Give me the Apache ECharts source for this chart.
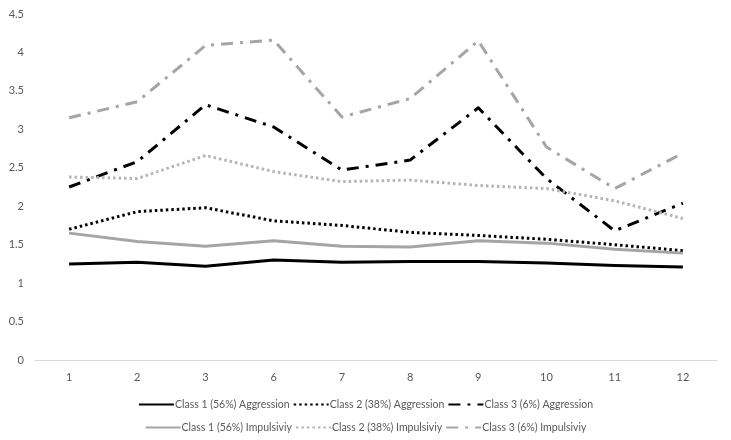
<!DOCTYPE html>
<html><head><meta charset="utf-8">
<script src="https://cdn.jsdelivr.net/npm/echarts@6/dist/echarts.min.js"></script>
<style>html,body{margin:0;padding:0;background:#fff}#c{width:731px;height:440px}</style>
</head><body><div id="c"></div>
<script>
const categories = ['1','2','3','6','7','8','9','10','11','12'];
const c1Aggression = [1.25,1.27,1.22,1.30,1.27,1.28,1.28,1.26,1.23,1.21];
const c2Aggression = [1.70,1.93,1.98,1.81,1.75,1.66,1.62,1.57,1.50,1.42];
const c3Aggression = [2.25,2.58,3.32,3.03,2.47,2.60,3.28,2.36,1.68,2.04];
const c1Impulsivity = [1.65,1.54,1.48,1.55,1.48,1.47,1.55,1.52,1.44,1.39];
const c2Impulsivity = [2.38,2.36,2.66,2.45,2.32,2.34,2.27,2.23,2.07,1.84];
const c3Impulsivity = [3.15,3.36,4.09,4.16,3.16,3.40,4.15,2.77,2.23,2.69];
const names = ['Class 1 (56%) Aggression','Class 2 (38%) Aggression','Class 3 (6%) Aggression',
               'Class 1 (56%) Impulsiviy','Class 2 (38%) Impulsiviy','Class 3 (6%) Impulsiviy'];

const FONT = 'Lato';
const TXT = '#595959';
const dotted = [2.5, 3];
const dashDot = [12, 7, 3, 7];
function s(name, data, color, type) {
  return { name, type: 'line', data, symbol: 'none', smooth: false,
    lineStyle: { color, width: 3, type, cap: 'butt', join: 'round' },
    itemStyle: { color } };
}
const legendBase = { left: 'center', itemWidth: 35, itemHeight: 10, itemGap: 3,
  itemStyle: { opacity: 0, borderWidth: 0 },
  textStyle: { color: TXT, fontFamily: FONT, fontSize: 10.5, padding: [0,0,0,-4] } };
const chart = echarts.init(document.getElementById('c'), null, { renderer: 'canvas' });
chart.setOption({
  animation: false,
  backgroundColor: '#fff',
  grid: { left: 35, right: 14, top: 14, bottom: 80, containLabel: false },
  xAxis: { type: 'category', data: categories, boundaryGap: true,
    axisLine: { lineStyle: { color: '#D9D9D9', width: 1 } },
    axisTick: { show: false },
    axisLabel: { color: TXT, fontFamily: FONT, fontSize: 11, margin: 12 } },
  yAxis: { type: 'value', min: 0, max: 4.5, interval: 0.5,
    axisLine: { show: false }, axisTick: { show: false },
    splitLine: { show: false },
    axisLabel: { color: TXT, fontFamily: FONT, fontSize: 11, margin: 11 } },
  legend: [
    Object.assign({}, legendBase, { data: names.slice(0,3), top: 394 }),
    Object.assign({}, legendBase, { data: names.slice(3), top: 417 })
  ],
  series: [
    s(names[0], c1Aggression, '#000000', 'solid'),
    s(names[1], c2Aggression, '#000000', dotted),
    s(names[2], c3Aggression, '#000000', dashDot),
    s(names[3], c1Impulsivity, '#A5A5A5', 'solid'),
    s(names[4], c2Impulsivity, '#B4B4B4', dotted),
    s(names[5], c3Impulsivity, '#A5A5A5', dashDot)
  ]
});
</script></body></html>
